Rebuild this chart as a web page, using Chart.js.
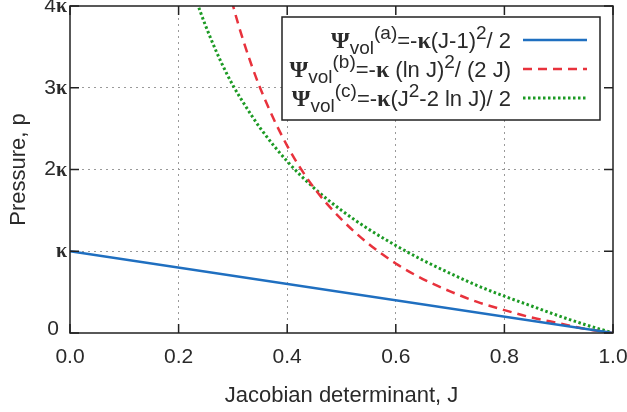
<!DOCTYPE html>
<html>
<head>
<meta charset="utf-8">
<script src="https://cdn.jsdelivr.net/npm/chart.js@4.4.1/dist/chart.umd.min.js"></script>
<style>
  html, body { margin: 0; padding: 0; background: #fff; }
  #wrap { width: 627px; height: 412px; }
</style>
</head>
<body>
<div id="wrap"><canvas id="chartPressure"></canvas></div>
<script>
// values (J on x, p in units of kappa on y)
const jLinear = [0.0, 1.0];
const pLinear = [1.0, 0.0];

const jCurve = [0.2, 0.22, 0.24, 0.26, 0.28, 0.3, 0.32, 0.35, 0.4, 0.45, 0.5, 0.55,
                0.6, 0.65, 0.7, 0.75, 0.8, 0.85, 0.9, 0.95, 1.0];
const pLog = [8.05, 6.88, 5.95, 5.18, 4.55, 4.01, 3.56, 3.0, 2.29, 1.77, 1.39, 1.09,
              0.85, 0.66, 0.51, 0.38, 0.28, 0.19, 0.12, 0.05, 0.0];
const pMixed = [4.8, 4.33, 3.93, 3.59, 3.29, 3.03, 2.81, 2.51, 2.1, 1.77, 1.5, 1.27,
                1.07, 0.89, 0.73, 0.58, 0.45, 0.33, 0.21, 0.1, 0.0];

const xTicks = [0, 0.2, 0.4, 0.6, 0.8, 1.0];
const yTicks = [0, 1, 2, 3, 4];
const yTickLabels = [["0", ""], ["", "κ"], ["2", "κ"], ["3", "κ"], ["4", "κ"]];

const sans = "'Liberation Sans', Arial, sans-serif";
const serif = "'Liberation Serif', 'DejaVu Serif', serif";
const textColor = "#2a2a2a";

function toPoints (xs, ys) {
    return xs.map((x, i) => ({ x: x, y: ys[i] }));
}

// frame with inward tick marks, plus y labels with a serif kappa
const framePlugin = {
    id: "frame",
    afterDatasetsDraw (chart) {
        const { ctx, chartArea: a, scales } = chart;
        ctx.save();
        ctx.strokeStyle = "#222";
        ctx.lineWidth = 1.5;
        ctx.strokeRect(a.left, a.top, a.right - a.left, a.bottom - a.top);
        ctx.beginPath();
        xTicks.forEach(v => {
            const x = scales.x.getPixelForValue(v);
            ctx.moveTo(x, a.bottom); ctx.lineTo(x, a.bottom - 9);
            ctx.moveTo(x, a.top); ctx.lineTo(x, a.top + 9);
        });
        yTicks.forEach(v => {
            const y = scales.y.getPixelForValue(v);
            ctx.moveTo(a.left, y); ctx.lineTo(a.left + 9, y);
            ctx.moveTo(a.right, y); ctx.lineTo(a.right - 9, y);
        });
        ctx.stroke();

        ctx.fillStyle = textColor;
        ctx.textBaseline = "middle";
        yTicks.forEach((v, i) => {
            const y = scales.y.getPixelForValue(v);
            const [num, k] = yTickLabels[i];
            ctx.font = "bold 20px " + serif;
            const kw = ctx.measureText(k).width;
            ctx.font = "21px " + sans;
            const nw = ctx.measureText(num).width;
            let x = a.left - 3 - kw - nw;
            if (v === 0) x -= 8;
            const yy = v === 0 ? y - 4 : y;
            ctx.fillText(num, x, yy);
            ctx.font = "bold 20px " + serif;
            ctx.fillText(k, x + nw, yy + 1);
        });
        ctx.restore();
    },
};

// legend with sub/superscripts
const legendRows = [
    {
        color: "#1f6fc0", dash: [], width: 2.5,
        parts: [["Ψ", "b"], ["vol", "sub"], ["(a)", "sup"], ["=-", "n"], ["κ", "b"], ["(J-1)", "n"], ["2", "sup"], ["/ 2", "n"]],
    },
    {
        color: "#e8323c", dash: [9, 6], width: 2.5,
        parts: [["Ψ", "b"], ["vol", "sub"], ["(b)", "sup"], ["=-", "n"], ["κ", "b"], [" (ln J)", "n"], ["2", "sup"], ["/ (2 J)", "n"]],
    },
    {
        color: "#1c9a24", dash: [2.5, 2.5], width: 3,
        parts: [["Ψ", "b"], ["vol", "sub"], ["(c)", "sup"], ["=-", "n"], ["κ", "b"], ["(J", "n"], ["2", "sup"], ["-2 ln J)/ 2", "n"]],
    },
];

function partFont (kind) {
    if (kind === "b") return "bold 24px " + serif;
    if (kind === "sub" || kind === "sup") return "19px " + sans;
    return "22px " + sans;
}
function partShift (kind) {
    if (kind === "sub") return 6;
    if (kind === "sup") return -9;
    return 0;
}

const legendPlugin = {
    id: "richLegend",
    afterDraw (chart) {
        const ctx = chart.ctx;
        const box = { left: 282, top: 17, right: 600, bottom: 120 };
        ctx.save();
        ctx.fillStyle = "#fff";
        ctx.fillRect(box.left, box.top, box.right - box.left, box.bottom - box.top);
        ctx.strokeStyle = "#222";
        ctx.lineWidth = 1.5;
        ctx.strokeRect(box.left, box.top, box.right - box.left, box.bottom - box.top);
        ctx.textBaseline = "alphabetic";
        ctx.fillStyle = textColor;
        legendRows.forEach((row, i) => {
            const base = 48 + i * 29;
            let total = 0;
            row.parts.forEach(p => { ctx.font = partFont(p[1]); total += ctx.measureText(p[0]).width; });
            let x = 511 - total;
            row.parts.forEach(p => {
                ctx.font = partFont(p[1]);
                ctx.fillText(p[0], x, base + partShift(p[1]));
                x += ctx.measureText(p[0]).width;
            });
            ctx.beginPath();
            ctx.strokeStyle = row.color;
            ctx.lineWidth = row.width;
            ctx.setLineDash(row.dash);
            ctx.moveTo(523, base - 8);
            ctx.lineTo(587, base - 8);
            ctx.stroke();
            ctx.setLineDash([]);
        });
        ctx.restore();
    },
};

const ctxPressure = document.getElementById("chartPressure").getContext("2d");
const chartPressure = new Chart(ctxPressure, {
    type: "line",
    data: {
        datasets: [
            {
                label: "a",
                data: toPoints(jLinear, pLinear),
                borderColor: "#1f6fc0",
                borderWidth: 2.5,
                pointRadius: 0,
            },
            {
                label: "b",
                data: toPoints(jCurve, pLog),
                borderColor: "#e8323c",
                borderWidth: 2.5,
                borderDash: [9, 6],
                pointRadius: 0,
                cubicInterpolationMode: "monotone",
            },
            {
                label: "c",
                data: toPoints(jCurve, pMixed),
                borderColor: "#1c9a24",
                borderWidth: 3,
                borderDash: [2.5, 2.5],
                pointRadius: 0,
                cubicInterpolationMode: "monotone",
            },
        ],
    },
    options: {
        responsive: true,
        maintainAspectRatio: false,
        animation: false,
        layout: { padding: { top: 6, right: 14, left: 0, bottom: 0 } },
        plugins: {
            legend: { display: false },
            tooltip: { enabled: false },
        },
        scales: {
            x: {
                type: "linear",
                min: 0,
                max: 1,
                afterBuildTicks: (s) => { s.ticks = xTicks.map(v => ({ value: v })); },
                afterFit: (s) => { s.height = 79; s.paddingLeft = 0; s.paddingRight = 0; },
                ticks: {
                    callback: (v) => v.toFixed(1),
                    font: { family: sans, size: 21 },
                    color: textColor,
                    padding: 12,
                    maxRotation: 0,
                },
                grid: {
                    drawTicks: false,
                    color: (c) => (c.tick.value === 0 || c.tick.value === 1 ? "rgba(0,0,0,0)" : "#9a9a9a"),
                    lineWidth: 1,
                },
                border: { display: false, dash: [2, 4] },
                title: {
                    display: true,
                    text: "Jacobian determinant, J",
                    font: { family: sans, size: 22 },
                    color: textColor,
                    padding: { top: 0, bottom: 3 },
                },
            },
            y: {
                type: "linear",
                min: 0,
                max: 4,
                afterBuildTicks: (s) => { s.ticks = yTicks.map(v => ({ value: v })); },
                afterFit: (s) => { s.width = 70; s.paddingTop = 0; s.paddingBottom = 0; },
                ticks: { display: false },
                grid: {
                    drawTicks: false,
                    color: (c) => (c.tick.value === 0 || c.tick.value === 4 ? "rgba(0,0,0,0)" : "#9a9a9a"),
                    lineWidth: 1,
                },
                border: { display: false, dash: [2, 4] },
                title: {
                    display: true,
                    text: "Pressure, p",
                    font: { family: sans, size: 22 },
                    color: textColor,
                    padding: { top: 6, bottom: 0 },
                },
            },
        },
    },
    plugins: [framePlugin, legendPlugin],
});
</script>
</body>
</html>
